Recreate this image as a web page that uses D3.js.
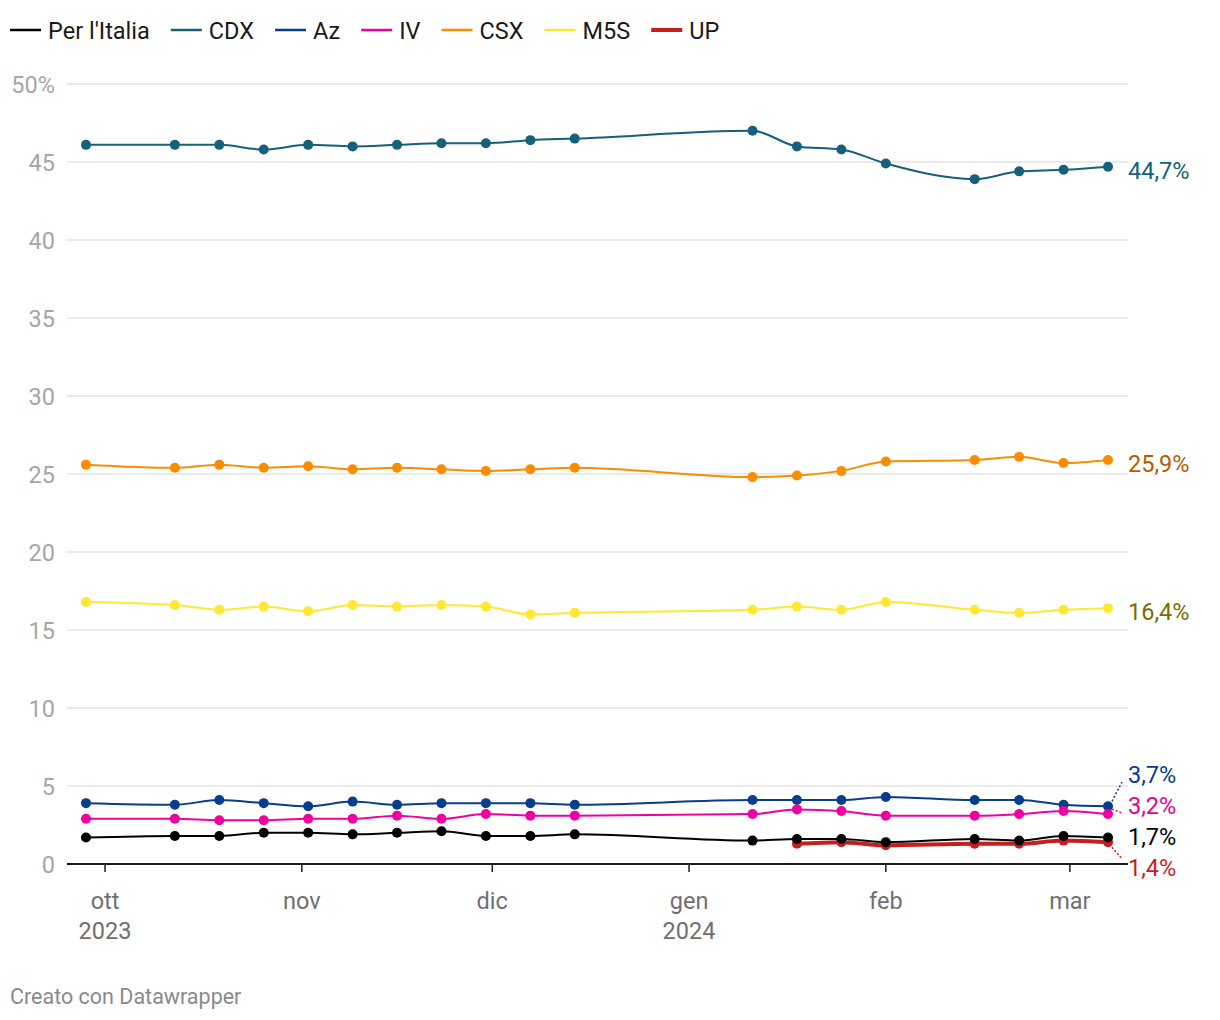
<!DOCTYPE html>
<html>
<head>
<meta charset="utf-8">
<script src="https://cdn.jsdelivr.net/npm/d3@7"></script>
<style>
  body { margin: 0; background: #fff; }
  svg { font-family: Roboto, "Noto Sans", sans-serif; }
</style>
</head>
<body>
<svg id="chart" width="1220" height="1020"></svg>
<script>
// poll dates (weekly, with gaps)
const dates = ["2023-09-28", "2023-10-12", "2023-10-19", "2023-10-26", "2023-11-02", "2023-11-09",
  "2023-11-16", "2023-11-23", "2023-11-30", "2023-12-07", "2023-12-14", "2024-01-11", "2024-01-18",
  "2024-01-25", "2024-02-01", "2024-02-15", "2024-02-22", "2024-02-29", "2024-03-07"]

const cdx = [46.1, 46.1, 46.1, 45.8, 46.1, 46.0, 46.1, 46.2, 46.2, 46.4, 46.5, 47.0, 46.0, 45.8, 44.9, 43.9, 44.4, 44.5, 44.7]
const csx = [25.6, 25.4, 25.6, 25.4, 25.5, 25.3, 25.4, 25.3, 25.2, 25.3, 25.4, 24.8, 24.9, 25.2, 25.8, 25.9, 26.1, 25.7, 25.9]
const m5s = [16.8, 16.6, 16.3, 16.5, 16.2, 16.6, 16.5, 16.6, 16.5, 16.0, 16.1, 16.3, 16.5, 16.3, 16.8, 16.3, 16.1, 16.3, 16.4]
const az = [3.9, 3.8, 4.1, 3.9, 3.7, 4.0, 3.8, 3.9, 3.9, 3.9, 3.8, 4.1, 4.1, 4.1, 4.3, 4.1, 4.1, 3.8, 3.7]
const iv = [2.9, 2.9, 2.8, 2.8, 2.9, 2.9, 3.1, 2.9, 3.2, 3.1, 3.1, 3.2, 3.5, 3.4, 3.1, 3.1, 3.2, 3.4, 3.2]
const perItalia = [1.7, 1.8, 1.8, 2.0, 2.0, 1.9, 2.0, 2.1, 1.8, 1.8, 1.9, 1.5, 1.6, 1.6, 1.4, 1.6, 1.5, 1.8, 1.7]
const up = [null, null, null, null, null, null, null, null, null, null, null, null, 1.3, 1.4, 1.2, 1.3, 1.3, 1.5, 1.4]

const yTicks = [0, 5, 10, 15, 20, 25, 30, 35, 40, 45, 50]
const monthTicks = ["2023-10-01", "2023-11-01", "2023-12-01", "2024-01-01", "2024-02-01", "2024-03-01"]
const monthLabels = ["ott", "nov", "dic", "gen", "feb", "mar"]
const yearLabels = ["2023", "", "", "2024", "", ""]

// legend order, draw order is separate
const series = [
  { name: "Per l'Italia", values: perItalia, color: "#000000", label: "#000000", width: 2 },
  { name: "CDX", values: cdx, color: "#15607a", label: "#15607a", width: 2 },
  { name: "Az", values: az, color: "#063d8c", label: "#063d8c", width: 2 },
  { name: "IV", values: iv, color: "#f000a0", label: "#e8008e", width: 2 },
  { name: "CSX", values: csx, color: "#fa8c00", label: "#b85a00", width: 2 },
  { name: "M5S", values: m5s, color: "#ffe833", label: "#7a6c00", width: 2 },
  { name: "UP", values: up, color: "#c71e1d", label: "#c71e1d", width: 4 }
]
const drawOrder = ["CDX", "CSX", "M5S", "Az", "IV", "UP", "Per l'Italia"]

const parse = d3.timeParse("%Y-%m-%d")
const svg = d3.select("#chart")
const fs = "23.5px"

const x = d3.scaleTime()
  .domain([parse(dates[0]), parse(dates[dates.length - 1])])
  .range([86, 1108])
const y = d3.scaleLinear().domain([0, 50]).range([864, 84])

const gridLeft = 67, gridRight = 1128

// gridlines + y labels
yTicks.forEach(t => {
  if (t > 0) {
    svg.append("line")
      .attr("x1", gridLeft).attr("x2", gridRight)
      .attr("y1", y(t)).attr("y2", y(t))
      .attr("stroke", "#e3e3e3").attr("stroke-width", 1.5)
  }
  svg.append("text")
    .attr("x", 55).attr("y", y(t) + 8.5)
    .attr("text-anchor", "end")
    .style("font-size", fs)
    .style("fill", "#a6a6a6")
    .text(t == 50 ? t + "%" : t)
})

// x axis
svg.append("line")
  .attr("x1", gridLeft).attr("x2", gridRight)
  .attr("y1", y(0)).attr("y2", y(0))
  .attr("stroke", "#1a1a1a").attr("stroke-width", 2)

monthTicks.forEach((m, i) => {
  const xx = x(parse(m))
  svg.append("line")
    .attr("x1", xx).attr("x2", xx)
    .attr("y1", y(0)).attr("y2", y(0) + 8)
    .attr("stroke", "#1a1a1a").attr("stroke-width", 1.5)
  svg.append("text")
    .attr("x", xx).attr("y", 909)
    .attr("text-anchor", "middle")
    .style("font-size", fs).style("fill", "#6f6f6f")
    .text(monthLabels[i])
  if (yearLabels[i])
    svg.append("text")
      .attr("x", xx).attr("y", 939)
      .attr("text-anchor", "middle")
      .style("font-size", fs).style("fill", "#6f6f6f")
      .text(yearLabels[i])
})

// lines and dots
const line = d3.line()
  .defined(d => d.v != null)
  .x(d => x(d.date))
  .y(d => y(d.v))
  .curve(d3.curveMonotoneX)

drawOrder.forEach(name => {
  const s = series.find(z => z.name == name)
  const pts = dates.map((d, i) => ({ date: parse(d), v: s.values[i] }))
  svg.append("path")
    .datum(pts)
    .attr("d", line)
    .attr("fill", "none")
    .attr("stroke", s.color)
    .attr("stroke-width", s.width)
  svg.selectAll(null)
    .data(pts.filter(p => p.v != null))
    .enter().append("circle")
    .attr("cx", p => x(p.date))
    .attr("cy", p => y(p.v))
    .attr("r", 5)
    .attr("fill", s.color)
})

// end labels, spread apart so they don't collide
const lastDate = parse(dates[dates.length - 1])
const labels = series.map(s => {
  const v = s.values[s.values.length - 1]
  return { s: s, v: v, py: y(v), ly: y(v) }
}).sort((a, b) => a.py - b.py)

const minGap = 31
const maxY = y(0)
for (let it = 0; it < 200; it++) {
  for (let i = 1; i < labels.length; i++) {
    const a = labels[i - 1], b = labels[i]
    const overlap = minGap - (b.ly - a.ly)
    if (overlap > 0) {
      a.ly -= overlap / 2
      b.ly += overlap / 2
    }
  }
  labels.forEach(l => { if (l.ly > maxY) l.ly = maxY })
}

const lx = x(lastDate)
labels.forEach(l => {
  if (Math.abs(l.ly - l.py) > 8) {
    const dir = l.ly < l.py ? -1 : 1
    svg.append("line")
      .attr("x1", lx + 4).attr("y1", l.py + dir * 5)
      .attr("x2", lx + 14).attr("y2", l.ly + 3 - dir * 8)
      .attr("stroke", l.s.color)
      .attr("stroke-width", 1.5)
      .attr("stroke-dasharray", "2,2")
  }
  svg.append("text")
    .attr("x", 1128).attr("y", l.ly + 12)
    .style("font-size", fs)
    .style("fill", l.s.label)
    .text(d3.format(".1f")(l.v).replace(".", ",") + "%")
})

// legend
let lgx = 10
series.forEach(s => {
  svg.append("line")
    .attr("x1", lgx).attr("x2", lgx + 31)
    .attr("y1", 30).attr("y2", 30)
    .attr("stroke", s.color)
    .attr("stroke-width", s.width == 4 ? 4 : 2.5)
  const t = svg.append("text")
    .attr("x", lgx + 38).attr("y", 38.5)
    .style("font-size", fs)
    .style("fill", "#1a1a1a")
    .text(s.name)
  lgx += 38 + t.node().getComputedTextLength() + 21
})

svg.append("text")
  .attr("x", 10).attr("y", 1004)
  .style("font-size", "21.5px")
  .style("fill", "#8a8a8a")
  .text("Creato con Datawrapper")
</script>
</body>
</html>
